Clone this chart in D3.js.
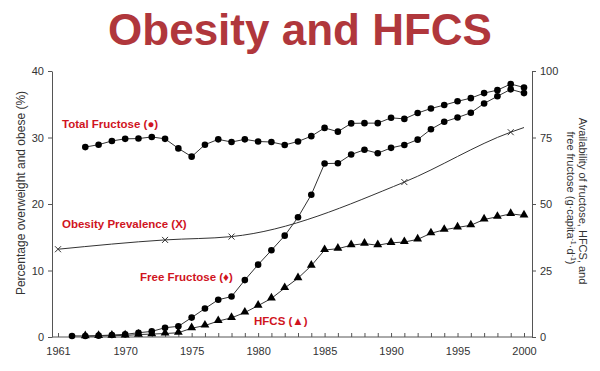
<!DOCTYPE html>
<html>
<head>
<meta charset="utf-8">
<script src="https://cdn.jsdelivr.net/npm/d3@7"></script>
<style>
  body { margin: 0; background: #fff; }
  text { font-family: "Liberation Sans", Arial, sans-serif; }
</style>
</head>
<body>
<div class="chart"></div>
<script>
// Data
var totalStart = 1967;
var totalFructose = [71.4, 72.3, 73.7, 74.5, 74.6, 75.2, 74.5, 70.9, 67.8, 72.3, 74.3, 73.3, 74.3, 73.5, 73.3,
  72.2, 73.5, 75.5, 78.6, 77.2, 80.3, 80.4, 80.4, 82.4, 82.0, 84.2, 85.9, 87.2, 88.6, 89.8, 91.7, 92.8, 95.1, 93.8];

var freeStart = 1966;
var freeFructose = [0.4, 0.4, 0.5, 0.75, 1.0, 1.6, 2.1, 3.5, 4.0, 7.3, 10.7, 14.0, 15.2, 21.4, 27.2, 32.6,
  38.1, 45.0, 53.5, 65.2, 65.3, 68.6, 70.4, 69.1, 71.1, 72.2, 74.2, 78.1, 80.9, 82.5, 84.3, 87.8, 90.5, 93.1, 91.7];

var hfcsStart = 1967;
var hfcs = [0.3, 0.4, 0.5, 0.6, 0.9, 1.1, 1.3, 1.6, 3.3, 4.3, 6.0, 7.2, 9.2, 11.8, 14.5,
  18.4, 22.1, 26.8, 32.7, 33.2, 34.5, 35.1, 34.5, 35.4, 35.7, 36.7, 39.0, 40.3, 41.2, 42.0, 44.2, 45.2, 46.3, 45.7];

var obesityYears = [1961, 1973, 1978, 1991, 1999, 2000];
var obesity = [13.2, 14.6, 15.1, 23.3, 30.8, 31.5];
var obesityMarked = [true, true, true, true, true, false];

var xTickLabels = [1961, 1970, 1975, 1980, 1985, 1990, 1995, 2000];
var leftTicks = [0, 10, 20, 30, 40];
var rightTicks = [0, 25, 50, 75, 100];

var svgWidth = 600;
var svgHeight = 371;
var margin = { top: 71, right: 68, bottom: 34, left: 52 };
var width = svgWidth - margin.left - margin.right;
var height = svgHeight - margin.top - margin.bottom;

var svg = d3.select(".chart")
  .append("svg")
  .attr("width", svgWidth)
  .attr("height", svgHeight);

// title
svg.append("text")
  .attr("x", 300)
  .attr("y", 45)
  .attr("text-anchor", "middle")
  .style("font-size", "44px")
  .style("font-weight", "bold")
  .style("fill", "#b0373c")
  .text("Obesity and HFCS");

var chartGroup = svg.append("g")
  .attr("transform", `translate(${margin.left}, ${margin.top})`);

// the axis jumps from 1961 straight to the mid sixties
var xScale = d3.scaleLinear()
  .domain([1961, 1966, 2000])
  .range([6, 20, 472]);

var yLeft = d3.scaleLinear().domain([0, 40]).range([height, 0]);
var yRight = d3.scaleLinear().domain([0, 100]).range([height, 0]);

var axisColor = "#555";
var labelColor = "#333";

// x axis: yearly ticks pointing up
var yearTicks = [1961];
for (var yr = 1966; yr <= 2000; yr++) yearTicks.push(yr);

var xAxisG = chartGroup.append("g")
  .attr("transform", `translate(0, ${height})`)
  .call(d3.axisBottom(xScale).tickValues(yearTicks).tickSizeInner(-4).tickSizeOuter(0).tickFormat(""));

chartGroup.append("g")
  .attr("transform", `translate(0, ${height})`)
  .call(d3.axisBottom(xScale).tickValues(xTickLabels).tickSize(0).tickPadding(10).tickFormat(d3.format("d")))
  .call(g => g.select(".domain").remove());

var leftAxisG = chartGroup.append("g")
  .call(d3.axisLeft(yLeft).tickValues(leftTicks).tickSizeInner(4).tickSizeOuter(0).tickPadding(4));

var rightAxisG = chartGroup.append("g")
  .attr("transform", `translate(${width}, 0)`)
  .call(d3.axisRight(yRight).tickValues(rightTicks).tickSizeInner(4).tickSizeOuter(0).tickPadding(4));

chartGroup.selectAll(".domain, .tick line").attr("stroke", axisColor);
chartGroup.selectAll(".tick text")
  .style("font-size", "11px")
  .style("font-family", "\"Liberation Sans\", Arial, sans-serif")
  .attr("fill", labelColor);

// make the x axis line span the whole plot
xAxisG.select(".domain").attr("d", `M0,0H${width}`);

// series
function seriesPoints(start, values) {
  return values.map(function (v, i) { return { year: start + i, value: v }; });
}

var totalData = seriesPoints(totalStart, totalFructose);
var freeData = seriesPoints(freeStart, freeFructose);
var hfcsData = seriesPoints(hfcsStart, hfcs);
var obesityData = obesityYears.map(function (y, i) {
  return { year: y, value: obesity[i], marked: obesityMarked[i] };
});

var rightLine = d3.line()
  .x(d => xScale(d.year))
  .y(d => yRight(d.value));

[totalData, freeData, hfcsData].forEach(function (data) {
  chartGroup.append("path")
    .datum(data)
    .attr("d", rightLine)
    .attr("fill", "none")
    .attr("stroke", "#333")
    .attr("stroke-width", 1);
});

var obesityLine = d3.line()
  .x(d => xScale(d.year))
  .y(d => yLeft(d.value))
  .curve(d3.curveMonotoneX);

chartGroup.append("path")
  .datum(obesityData)
  .attr("d", obesityLine)
  .attr("fill", "none")
  .attr("stroke", "#333")
  .attr("stroke-width", 1);

// markers
chartGroup.selectAll(".hfcs")
  .data(hfcsData)
  .enter()
  .append("path")
  .attr("class", "hfcs")
  .attr("transform", d => `translate(${xScale(d.year)}, ${yRight(d.value) - 0.5})`)
  .attr("d", d3.symbol().type(d3.symbolTriangle).size(34))
  .attr("fill", "#000");

chartGroup.selectAll(".free")
  .data(freeData)
  .enter()
  .append("circle")
  .attr("class", "free")
  .attr("cx", d => xScale(d.year))
  .attr("cy", d => yRight(d.value))
  .attr("r", 3.3)
  .attr("fill", "#000");

chartGroup.selectAll(".total")
  .data(totalData)
  .enter()
  .append("circle")
  .attr("class", "total")
  .attr("cx", d => xScale(d.year))
  .attr("cy", d => yRight(d.value))
  .attr("r", 3.3)
  .attr("fill", "#000");

chartGroup.selectAll(".obx")
  .data(obesityData.filter(d => d.marked))
  .enter()
  .append("path")
  .attr("class", "obx")
  .attr("transform", d => `translate(${xScale(d.year)}, ${yLeft(d.value)})`)
  .attr("d", "M-3,-3L3,3M-3,3L3,-3")
  .attr("stroke", "#333")
  .attr("stroke-width", 1);

// series labels
var seriesLabels = [
  { text: "Total Fructose (\u25CF)", x: 10, y: 57 },
  { text: "Obesity Prevalence (X)", x: 10, y: 157 },
  { text: "Free Fructose (\u2666)", x: 88, y: 210 },
  { text: "HFCS (\u25B2)", x: 202, y: 254 }
];

chartGroup.selectAll(".serieslabel")
  .data(seriesLabels)
  .enter()
  .append("text")
  .attr("class", "serieslabel")
  .attr("x", d => d.x)
  .attr("y", d => d.y)
  .style("font-size", "11.5px")
  .style("font-weight", "bold")
  .style("fill", "#d0141e")
  .text(d => d.text);

// axis titles
svg.append("text")
  .attr("transform", `translate(22, 193) rotate(-90)`)
  .attr("text-anchor", "middle")
  .attr("dominant-baseline", "middle")
  .style("font-size", "12px")
  .style("fill", labelColor)
  .text("Percentage overweight and obese (%)");

// rotated 90deg: local y grows to the left, glyph tops face right
var rightTitle = svg.append("text")
  .attr("transform", `translate(577, 201) rotate(90)`)
  .attr("text-anchor", "middle")
  .style("font-size", "11px")
  .style("fill", labelColor);

rightTitle.append("tspan")
  .attr("x", 0)
  .attr("y", -2)
  .text("Availability of fructose, HFCS, and");

var line2 = rightTitle.append("tspan")
  .attr("x", -3)
  .attr("y", 10);
line2.append("tspan").text("free fructose (g\u00B7capita");
line2.append("tspan").attr("dy", -4).style("font-size", "7px").text("-1");
line2.append("tspan").attr("dy", 4).text("\u00B7d");
line2.append("tspan").attr("dy", -4).style("font-size", "7px").text("-1");
line2.append("tspan").attr("dy", 4).text(")");
</script>
</body>
</html>
